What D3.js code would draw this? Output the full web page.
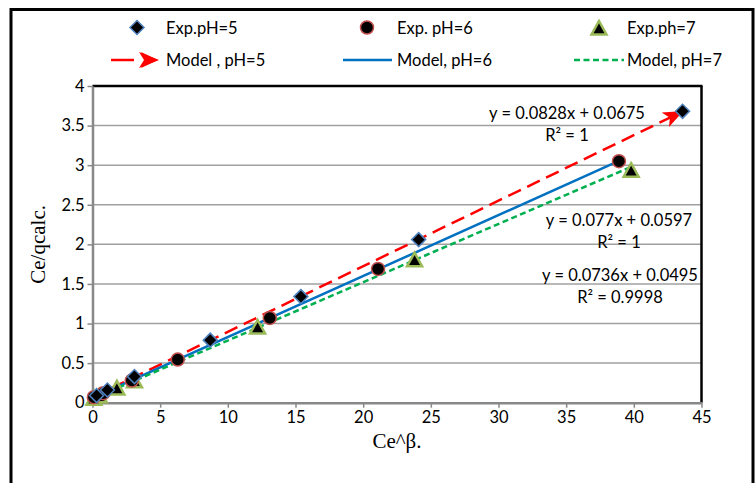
<!DOCTYPE html>
<html><head><meta charset="utf-8">
<script src="https://cdn.jsdelivr.net/npm/d3@7"></script>
<style>body{margin:0;background:#fff}svg{display:block}</style>
</head><body>
<script>
const ph5X = [0.3, 1.1, 3.1, 8.7, 15.4, 24.1, 43.6];
const ph5Y = [0.09, 0.16, 0.33, 0.79, 1.34, 2.06, 3.68];
const ph6X = [0.1, 0.8, 2.9, 6.3, 13.1, 21.1, 38.9];
const ph6Y = [0.07, 0.12, 0.28, 0.545, 1.07, 1.69, 3.05];
const ph7X = [0.1, 0.5, 1.8, 3.1, 12.2, 23.8, 39.8];
const ph7Y = [0.05, 0.08, 0.18, 0.27, 0.95, 1.80, 2.93];
const modelSlopes = [0.0828, 0.077, 0.0736];
const modelIntercepts = [0.0675, 0.0597, 0.0495];
const modelXRange = [[0, 43.6], [0, 38.9], [0, 39.8]];
const equations = ["y = 0.0828x + 0.0675", "y = 0.077x + 0.0597", "y = 0.0736x + 0.0495"];
const r2Labels = ["R² = 1", "R² = 1", "R² = 0.9998"];
const xTicks = [0,5,10,15,20,25,30,35,40,45];
const yTicks = [0,0.5,1,1.5,2,2.5,3,3.5,4];
const legendExp = ["Exp.pH=5", "Exp. pH=6", "Exp.ph=7"];
const legendModel = ["Model , pH=5", "Model, pH=6", "Model, pH=7"];

const W = 756, H = 483;
const svg = d3.select("body").append("svg").attr("width", W).attr("height", H);
const font = "Lato, 'Open Sans', sans-serif";
const fs = 16.5;

// outer frame
svg.append("rect").attr("x", 11).attr("y", 9.5).attr("width", 742).attr("height", 500)
  .attr("fill", "none").attr("stroke", "#000").attr("stroke-width", 3);

const L = 92.5, R = 701.5, T = 86, B = 402.7;
const x = d3.scaleLinear().domain([0,45]).range([L,R]);
const y = d3.scaleLinear().domain([0,4]).range([B,T]);

// gridlines
svg.append("g").selectAll("line").data(yTicks.filter(d => d > 0 && d < 4)).join("line")
  .attr("x1", L).attr("x2", R).attr("y1", d => y(d)).attr("y2", d => y(d))
  .attr("stroke", "#a0a0a0").attr("stroke-width", 1.5);

// plot border top & right
svg.append("line").attr("x1", L).attr("x2", R+1).attr("y1", T).attr("y2", T).attr("stroke", "#000").attr("stroke-width", 2.5);
svg.append("line").attr("x1", R).attr("x2", R).attr("y1", T).attr("y2", B).attr("stroke", "#000").attr("stroke-width", 2.5);

// axes
const xAxis = svg.append("g").attr("transform", `translate(0,${B})`)
  .call(d3.axisBottom(x).tickValues(xTicks).tickSize(5).tickSizeOuter(0).tickPadding(2));
const yAxis = svg.append("g").attr("transform", `translate(${L},0)`)
  .call(d3.axisLeft(y).tickValues(yTicks).tickSize(5).tickSizeOuter(0).tickPadding(3).tickFormat(d => d));
[xAxis, yAxis].forEach(g => {
  g.select(".domain").attr("stroke", "#888").attr("stroke-width", 2.5);
  g.selectAll(".tick line").attr("stroke", "#888").attr("stroke-width", 1.5);
  g.selectAll(".tick text").attr("font-family", font).attr("font-size", fs).attr("fill", "#000");
});
xAxis.selectAll(".tick text").attr("dy", "0.8em");

// axis titles
svg.append("text").attr("x", x(22.5)).attr("y", 448).attr("text-anchor", "middle")
  .attr("font-family", "'Liberation Serif', 'Times New Roman', serif").attr("font-size", 21).text("Ce^β.");
svg.append("text").attr("transform", `translate(45,${(T+B)/2}) rotate(-90)`).attr("text-anchor", "middle")
  .attr("font-family", "'Liberation Serif', 'Times New Roman', serif").attr("font-size", 21).text("Ce/qcalc.");

// arrow marker
const defs = svg.append("defs");
defs.append("marker").attr("id", "arr").attr("viewBox", "0 0 20 16").attr("refX", 19).attr("refY", 8)
  .attr("markerWidth", 20).attr("markerHeight", 16).attr("markerUnits", "userSpaceOnUse").attr("orient", "auto")
  .append("path").attr("d", "M0,0 L20,8 L0,16 L5,8 Z").attr("fill", "#ff0000");

const lineColors = ["#ff0000", "#0070c0", "#00b050"];
const dashes = ["14,7", null, "6,3.5"];
modelSlopes.forEach((m, i) => {
  const [a, b] = modelXRange[i];
  const p = svg.append("line")
    .attr("x1", x(a)).attr("y1", y(m*a + modelIntercepts[i]))
    .attr("x2", x(b)).attr("y2", y(m*b + modelIntercepts[i]))
    .attr("stroke", lineColors[i]).attr("stroke-width", 2.5);
  if (dashes[i]) p.attr("stroke-dasharray", dashes[i]);
  if (i === 0) p.attr("marker-end", "url(#arr)");
});

// markers
function drawDiamond(g, cx, cy) {
  g.append("path").attr("d", "M0,-7L7,0L0,7L-7,0Z").attr("transform", `translate(${cx},${cy})`)
    .attr("fill", "#000").attr("stroke", "#4f81bd").attr("stroke-width", 1.5);
}
function drawCircle(g, cx, cy) {
  g.append("circle").attr("cx", cx).attr("cy", cy).attr("r", 6.5)
    .attr("fill", "#000").attr("stroke", "#c0504d").attr("stroke-width", 1.5);
}
function drawTri(g, cx, cy) {
  g.append("path").attr("d", "M0,-7.5L7.5,6L-7.5,6Z").attr("transform", `translate(${cx},${cy})`)
    .attr("fill", "#000").attr("stroke", "#9bbb59").attr("stroke-width", 2.5).attr("stroke-linejoin", "miter");
}
const mg = svg.append("g");
ph7X.forEach((v, i) => drawTri(mg, x(v), y(ph7Y[i])));
ph6X.forEach((v, i) => drawCircle(mg, x(v), y(ph6Y[i])));
ph5X.forEach((v, i) => drawDiamond(mg, x(v), y(ph5Y[i])));

// equation labels
const eqPos = [[567, 119, 141], [619, 226, 248], [620, 281, 303]];
equations.forEach((t, i) => {
  svg.append("text").attr("x", eqPos[i][0]).attr("y", eqPos[i][1]).attr("text-anchor", "middle")
    .attr("font-family", font).attr("font-size", fs).text(t);
  svg.append("text").attr("x", eqPos[i][0]).attr("y", eqPos[i][2]).attr("text-anchor", "middle")
    .attr("font-family", font).attr("font-size", fs).text(r2Labels[i]);
});

// legend
const lg = svg.append("g");
const expMarkX = [137, 367, 599];
const textX = [166, 397, 627];
[drawDiamond, drawCircle, drawTri].forEach((f, i) => f(lg, expMarkX[i], i === 2 ? 28.5 : 27.5));
legendExp.forEach((t, i) => lg.append("text").attr("x", textX[i]).attr("y", 33.5)
  .attr("font-family", font).attr("font-size", fs).text(t));
legendModel.forEach((t, i) => lg.append("text").attr("x", textX[i]).attr("y", 66)
  .attr("font-family", font).attr("font-size", fs).text(t));
lg.append("line").attr("x1", 111).attr("x2", 134).attr("y1", 60).attr("y2", 60)
  .attr("stroke", "#ff0000").attr("stroke-width", 2.5);
lg.append("line").attr("x1", 140).attr("x2", 158).attr("y1", 60).attr("y2", 60)
  .attr("stroke", "none").attr("marker-end", "url(#arr)");
lg.append("path").attr("d", "M141,52 L158,60 L141,68 L146,60 Z").attr("fill", "#ff0000");
lg.append("line").attr("x1", 343).attr("x2", 392).attr("y1", 60).attr("y2", 60)
  .attr("stroke", "#0070c0").attr("stroke-width", 2.5);
lg.append("line").attr("x1", 574).attr("x2", 624).attr("y1", 60).attr("y2", 60)
  .attr("stroke", "#00b050").attr("stroke-width", 2.5).attr("stroke-dasharray", "6,3.5");
</script>
</body></html>
